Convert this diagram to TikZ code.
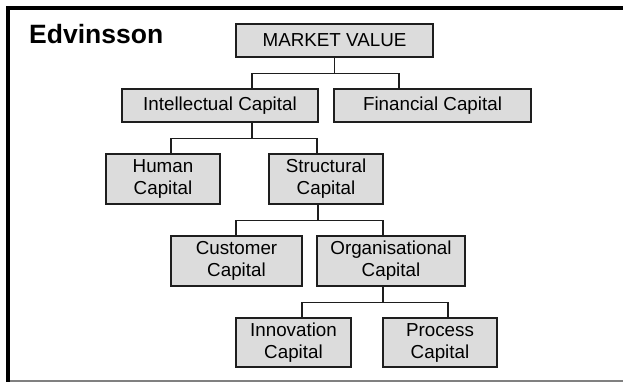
\documentclass[tikz,border=0pt]{standalone}
\usepackage{fontspec}
\setmainfont{Liberation Sans}
\definecolor{boxgray}{RGB}{220,220,220}
\definecolor{linedark}{RGB}{30,30,30}
\begin{document}
\begin{tikzpicture}[x=1pt,y=-1pt,
  box/.style={draw=linedark, line width=1.4pt, fill=boxgray, rectangle, inner sep=0pt,
    align=center, font=\fontsize{18.8}{22}\selectfont},
  link/.style={draw=linedark, line width=1.4pt}]
\useasboundingbox (0,0) rectangle (623,382);
\fill[white] (0,0) rectangle (623,382);
\draw[line width=4pt, miter limit=10] (623,8) -- (8,8) -- (8,382);
\draw[gray, line width=2pt] (10,381) -- (623,381);
\node[anchor=base west, inner sep=0pt, font=\fontsize{26.5}{30}\selectfont\bfseries] (title) at (29,44) {Edvinsson};

\node[box, minimum width=197, minimum height=33] (mv) at (334.5,40.5) {MARKET VALUE};
\node[box, minimum width=196, minimum height=33] (ic) at (220,105.5) {Intellectual Capital};
\node[box, minimum width=197, minimum height=33] (fc) at (432.5,105.5) {Financial Capital};
\node[box, minimum width=114, minimum height=50] (hc) at (163,179) {Human\\Capital};
\node[box, minimum width=114, minimum height=50] (sc) at (326,179) {Structural\\Capital};
\node[box, minimum width=131, minimum height=50] (cc) at (236.5,261) {Customer\\Capital};
\node[box, minimum width=148, minimum height=50] (oc) at (391,261) {Organisational\\Capital};
\node[box, minimum width=115, minimum height=49] (inn) at (293.5,342.5) {Innovation\\Capital};
\node[box, minimum width=114, minimum height=49] (pc) at (440,342.5) {Process\\Capital};

\draw[link] (mv.south) -- ++(0,16) coordinate (b1);
\draw[link] ([xshift=32]ic.north) |- (b1) -| ([xshift=-33.5]fc.north);
\draw[link] ([xshift=32]ic.south) -- ++(0,16) coordinate (b2);
\draw[link] ([xshift=8]hc.north) |- (b2) -| ([xshift=-9]sc.north);
\draw[link] ([xshift=-8]sc.south) -- ++(0,16) coordinate (b3);
\draw[link] ([xshift=-0.5]cc.north) |- (b3) -| ([xshift=-8]oc.north);
\draw[link] ([xshift=-8]oc.south) -- ++(0,16) coordinate (b4);
\draw[link] ([xshift=8.5]inn.north) |- (b4) -| ([xshift=8]pc.north);
\end{tikzpicture}
\end{document}
